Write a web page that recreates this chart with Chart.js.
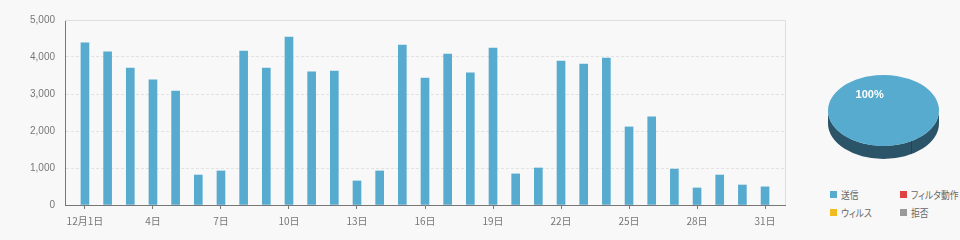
<!DOCTYPE html>
<html><head><meta charset="utf-8">
<script src="https://cdn.jsdelivr.net/npm/chart.js@4/dist/chart.umd.min.js"></script>
<style>
html,body{margin:0;padding:0;background:#f8f8f8;width:960px;height:240px;overflow:hidden;}
#bar{position:absolute;left:0;top:0;}
#pie{position:absolute;left:820px;top:55px;}
#legend{position:absolute;left:830px;top:185px;display:grid;grid-template-columns:70px 70px;grid-auto-rows:18px;
 font:10px "Noto Sans CJK JP",sans-serif;color:#666;font-feature-settings:"palt" 1;}
#legend div{display:flex;align-items:center;white-space:nowrap;}
#legend span.b{display:inline-block;flex:0 0 7px;width:7px;height:7px;margin-right:4px;}
#legend span.t{display:inline-block;transform:scaleX(0.88);transform-origin:left center;}
</style></head>
<body>
<canvas id="bar" width="800" height="240"></canvas>
<canvas id="pie" width="127" height="130"></canvas>
<div id="legend"></div>
<script>
const days = [1,2,3,4,5,6,7,8,9,10,11,12,13,14,15,16,17,18,19,20,21,22,23,24,25,26,27,28,29,30,31];
const sendValues = [4380,4140,3700,3380,3080,810,920,4160,3700,4540,3600,3620,650,920,4320,3430,4080,3570,4240,840,1000,3890,3810,3970,2110,2380,970,460,810,540,490];
const tickDays = [1,4,7,10,13,16,19,22,25,28,31];
const tickLabels = ['12月1日','4日','7日','10日','13日','16日','19日','22日','25日','28日','31日'];
const yTicks = [0,1000,2000,3000,4000,5000];
const pieLabels = ['送信','フィルタ動作','ウィルス','拒否'];
const pieValues = [sendValues.reduce((a,b)=>a+b,0), 0, 0, 0];
const pieColors = ['#57abcf','#e04141','#f0bb1e','#999999'];
const pieSide = '#2b5468';

const frame = {
  id:'frame',
  beforeDatasetsDraw(chart){
    const {ctx, chartArea:a} = chart;
    ctx.save();
    ctx.strokeStyle = '#dedede'; ctx.lineWidth = 1;
    ctx.beginPath();
    ctx.moveTo(a.left, a.top+0.5); ctx.lineTo(a.right+0.5, a.top+0.5); ctx.lineTo(a.right+0.5, a.bottom);
    ctx.stroke();
    ctx.restore();
  }
};

new Chart(document.getElementById('bar'), {
  type:'bar',
  data:{datasets:[{data: days.map((d,i)=>({x:d, y:sendValues[i]})), backgroundColor:'#57abcf', barThickness:8, borderWidth:0}]},
  options:{
    responsive:false, animation:false, events:[],
    layout:{padding:{top:20,right:15,left:0,bottom:0}},
    plugins:{legend:{display:false},tooltip:{enabled:false}},
    scales:{
      x:{type:'linear', min:0.12, max:31.88, offset:false,
        afterBuildTicks(s){ s.ticks = tickDays.map(v=>({value:v})); },
        afterFit(s){ s.height = 35; },
        ticks:{autoSkip:false, maxRotation:0, padding:6, color:'#777', font:{family:'"Noto Sans CJK JP"', size:10},
          callback:(v,i)=>tickLabels[i]},
        grid:{display:true, offset:false, drawOnChartArea:false, drawTicks:true, tickLength:4, tickColor:'#777', tickWidth:1},
        border:{display:true, color:'#777', width:1}
      },
      y:{min:0, max:5000,
        afterBuildTicks(s){ s.ticks = yTicks.map(v=>({value:v})); },
        afterFit(s){ s.width = 65; },
        ticks:{padding:10, color:'#777', font:{family:'"Liberation Sans"', size:10},
          callback:(v)=>v.toLocaleString('en-US')},
        grid:{color:'#e2e2e2', drawTicks:false, lineWidth:1},
        border:{display:true, color:'#777', width:1, dash:[3,2]}
      }
    }
  },
  plugins:[frame]
});

const K = 35.5/55.5, DEPTH = 13;
const pie3d = {
  id:'pie3d',
  beforeDatasetsDraw(chart){
    const arc = chart.getDatasetMeta(0).data[0];
    const cx = arc.x, cy = arc.y, r = arc.outerRadius;
    const ctx = chart.ctx;
    ctx.save();
    ctx.fillStyle = pieSide;
    ctx.beginPath();
    ctx.ellipse(cx, cy, r, r*K, 0, 0, Math.PI, false);
    ctx.lineTo(cx - r, cy + DEPTH);
    ctx.ellipse(cx, cy + DEPTH, r, r*K, 0, Math.PI, 0, true);
    ctx.closePath();
    ctx.fill();
    const sa = arc.startAngle;
    if (Math.sin(sa) > 0) {
      const sx = cx + r*Math.cos(sa), sy = cy + r*K*Math.sin(sa);
      ctx.strokeStyle = 'rgba(0,0,0,0.18)'; ctx.lineWidth = 1;
      ctx.beginPath(); ctx.moveTo(Math.round(sx)+0.5, sy); ctx.lineTo(Math.round(sx)+0.5, sy+DEPTH); ctx.stroke();
    }
    ctx.restore();
    ctx.save();
    ctx.translate(0, cy); ctx.scale(1, K); ctx.translate(0, -cy);
  },
  afterDatasetsDraw(chart){
    const ctx = chart.ctx;
    ctx.restore();
    const meta = chart.getDatasetMeta(0);
    const total = pieValues.reduce((a,b)=>a+b,0);
    ctx.save();
    ctx.fillStyle = '#fff';
    ctx.font = 'bold 11px "Liberation Sans"';
    ctx.textAlign = 'center'; ctx.textBaseline = 'middle';
    meta.data.forEach((arc,i)=>{
      if (!pieValues[i]) return;
      const p = arc.getCenterPoint();
      const y = arc.y + (p.y - arc.y)*K;
      ctx.fillText(Math.round(pieValues[i]/total*100)+'%', p.x, y);
    });
    ctx.restore();
  }
};

new Chart(document.getElementById('pie'), {
  type:'pie',
  data:{labels:pieLabels, datasets:[{data:pieValues, backgroundColor:pieColors, borderWidth:0, clip:false}]},
  options:{
    responsive:false, animation:false, events:[], rotation:150,
    layout:{padding:{top:0,left:0,right:0,bottom:19}},
    plugins:{legend:{display:false},tooltip:{enabled:false}}
  },
  plugins:[pie3d]
});

const lg = document.getElementById('legend');
[0,1,2,3].forEach(i=>{
  const d = document.createElement('div');
  const b = document.createElement('span'); b.className='b'; b.style.background = pieColors[i];
  const t = document.createElement('span'); t.className='t'; t.textContent = pieLabels[i];
  d.appendChild(b); d.appendChild(t); lg.appendChild(d);
});
</script>
</body></html>
